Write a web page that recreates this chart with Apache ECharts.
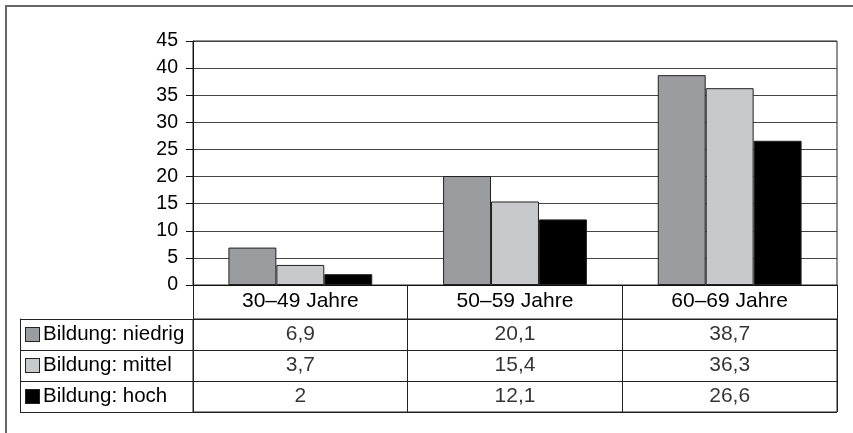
<!DOCTYPE html>
<html>
<head>
<meta charset="utf-8">
<script src="https://cdn.jsdelivr.net/npm/echarts@6/dist/echarts.min.js"></script>
<style>
  html, body { margin: 0; padding: 0; background: #fff; }
  #main { width: 853px; height: 433px; }
</style>
</head>
<body>
<div id="main"></div>
<script>
// data
const categories = ['30–49 Jahre', '50–59 Jahre', '60–69 Jahre'];
const seriesNames = ['Bildung: niedrig', 'Bildung: mittel', 'Bildung: hoch'];
const niedrig = [6.9, 20.1, 38.7];
const mittel = [3.7, 15.4, 36.3];
const hoch = [2, 12.1, 26.6];
const yTicks = { min: 0, max: 45, interval: 5 };

const colors = ['#9a9ca0', '#c8c9cb', '#000000'];
const values = [niedrig, mittel, hoch];

const fmt = v => String(v).replace('.', ',');

const chart = echarts.init(document.getElementById('main'));

// table cells: [category, row label, value]
const tableData = [];
values.forEach((arr, r) => {
  arr.forEach((v, c) => tableData.push([categories[c], seriesNames[r], v]));
});

const rich = { t: { fontSize: 20.5, color: '#000', padding: [0, 0, 0, 4] } };
colors.forEach((c, i) => {
  rich['s' + i] = { width: 13, height: 13, backgroundColor: c, borderColor: '#222', borderWidth: 1 };
});

chart.setOption({
  animation: false,
  textStyle: { fontFamily: 'Liberation Sans, Arial, sans-serif' },
  graphic: [{
    type: 'polyline',
    shape: { points: [[6, 433], [6, 6], [853, 6]] },
    style: { stroke: '#666', lineWidth: 2, fill: null }
  }],
  grid: [
    { left: 193, right: 16, top: 41, bottom: 148, show: true, borderColor: '#222', borderWidth: 1 },
    { left: 193, right: 16, top: 319, bottom: 21, show: true, borderColor: '#222', borderWidth: 1 }
  ],
  xAxis: [
    {
      type: 'category', gridIndex: 0, data: categories,
      axisLine: { show: true, lineStyle: { color: '#111', width: 1 } },
      axisTick: { show: true, length: 127, interval: 0, lineStyle: { color: '#222' } },
      axisLabel: { fontSize: 21, color: '#000', margin: 6 },
      splitLine: { show: false }
    },
    {
      type: 'category', gridIndex: 1, data: categories,
      axisLine: { show: false }, axisTick: { show: false }, axisLabel: { show: false },
      splitLine: { show: false }
    }
  ],
  yAxis: [
    {
      type: 'value', gridIndex: 0, min: yTicks.min, max: yTicks.max, interval: yTicks.interval,
      axisLine: { show: true, lineStyle: { color: '#111' } },
      axisTick: { show: true, length: 7, lineStyle: { color: '#111' } },
      axisLabel: { fontSize: 19.5, color: '#000', margin: 15 },
      splitLine: { show: true, lineStyle: { color: '#444', width: 1 } }
    },
    {
      type: 'category', gridIndex: 1, data: seriesNames, inverse: true,
      axisLine: { show: true, lineStyle: { color: '#222' } },
      axisTick: { show: true, length: 173, interval: 0, lineStyle: { color: '#222' } },
      axisLabel: {
        align: 'left', margin: 167,
        formatter: (v, i) => '{s' + i + '|}{t|' + v + '}',
        rich: rich
      },
      splitLine: { show: true, lineStyle: { color: '#222' } }
    },
    {
      type: 'category', gridIndex: 1, data: seriesNames, inverse: true,
      position: 'left', offset: 173,
      axisLine: { show: true, lineStyle: { color: '#222' } },
      axisTick: { show: false }, axisLabel: { show: false }, splitLine: { show: false }
    }
  ],
  series: values.map((arr, i) => ({
    name: seriesNames[i], type: 'bar', xAxisIndex: 0, yAxisIndex: 0,
    data: arr, barGap: '0%', barCategoryGap: '33%',
    itemStyle: { color: colors[i], borderColor: '#222', borderWidth: 1 }
  })).concat([{
    type: 'scatter', xAxisIndex: 1, yAxisIndex: 1, symbolSize: 0,
    data: tableData,
    label: {
      show: true, position: 'inside', fontSize: 21, color: '#000',
      formatter: p => fmt(p.value[2])
    }
  }])
});
</script>
</body>
</html>
